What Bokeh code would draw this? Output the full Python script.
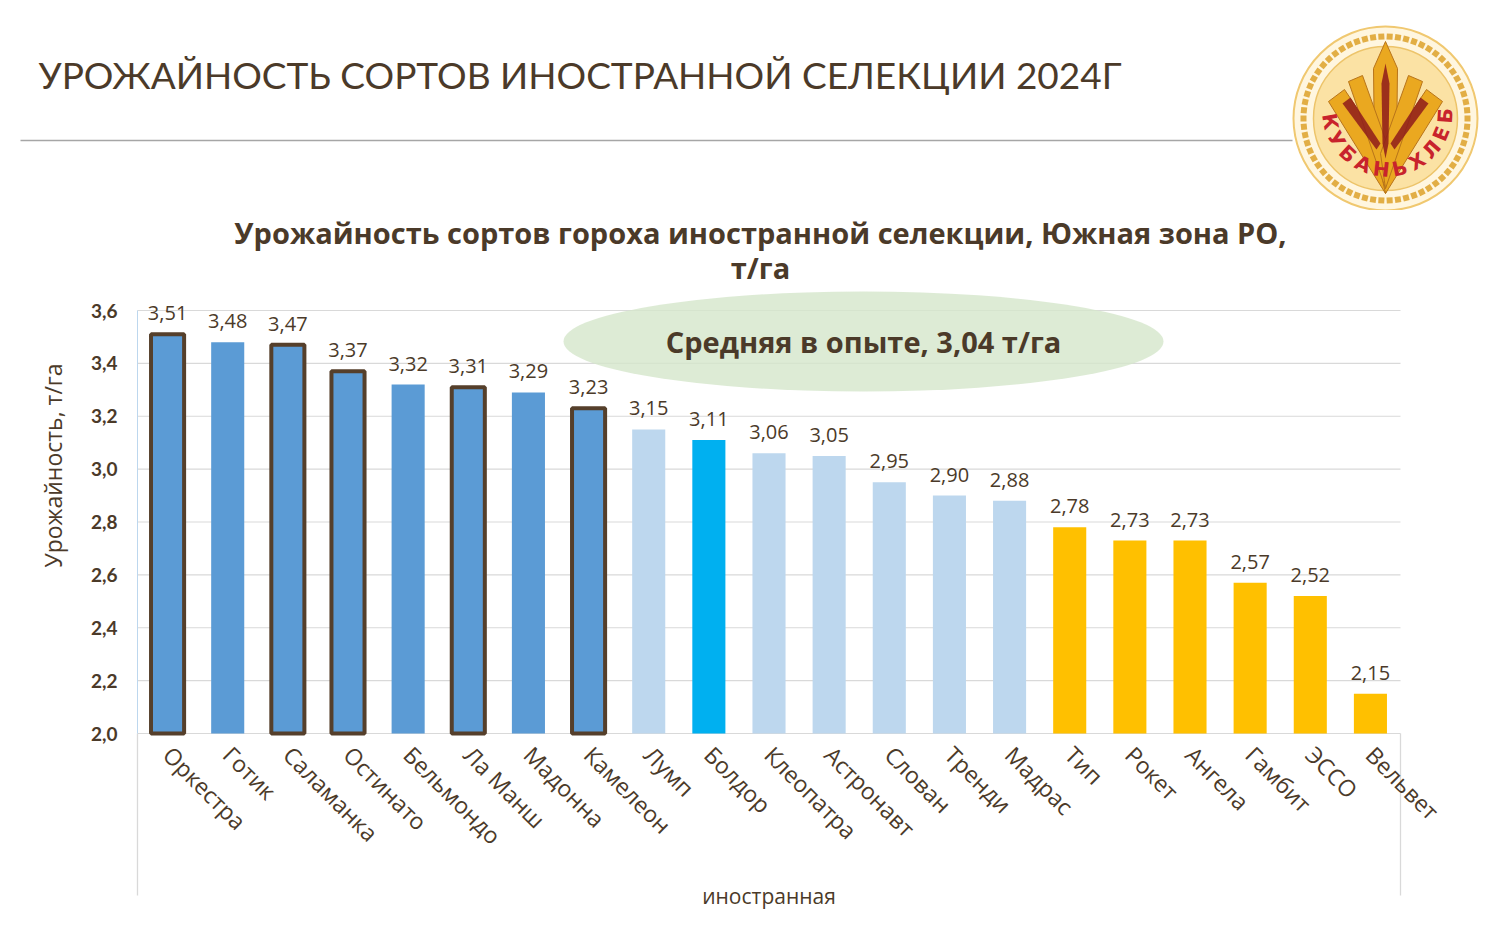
import math
import numpy as np
from bokeh.plotting import figure
from bokeh.models import (ColumnDataSource, FactorRange, Range1d, FixedTicker,
                          CustomJSTickFormatter)
from bokeh.core.properties import value
from bokeh.embed import file_html
from bokeh.resources import INLINE

# ---------------- data ----------------
group = "иностранная"
varieties = ["Оркестра", "Готик", "Саламанка", "Остинато", "Бельмондо", "Ла Манш",
             "Мадонна", "Камелеон", "Лумп", "Болдор", "Клеопатра", "Астронавт",
             "Слован", "Тренди", "Мадрас", "Тип", "Рокет", "Ангела", "Гамбит",
             "ЭССО", "Вельвет"]
yields = [3.51, 3.48, 3.47, 3.37, 3.32, 3.31, 3.29, 3.23, 3.15, 3.11, 3.06, 3.05,
          2.95, 2.90, 2.88, 2.78, 2.73, 2.73, 2.57, 2.52, 2.15]
# colour class of each bar: 0 = high, 1 = middle, 2 = highlighted, 3 = low
classes = [0, 0, 0, 0, 0, 0, 0, 0, 1, 2, 1, 1, 1, 1, 1, 3, 3, 3, 3, 3, 3]
outlined = ["Оркестра", "Саламанка", "Остинато", "Ла Манш", "Камелеон"]
y_ticks = [2.0, 2.2, 2.4, 2.6, 2.8, 3.0, 3.2, 3.4, 3.6]
mean_text = "Средняя в опыте, 3,04 т/га"
page_title = "УРОЖАЙНОСТЬ СОРТОВ ИНОСТРАННОЙ СЕЛЕКЦИИ 2024Г"
chart_title_1 = "Урожайность сортов гороха иностранной селекции, Южная зона РО,"
chart_title_2 = "т/га"
y_label = "Урожайность, т/га"
logo_text = "КУБАНЬХЛЕБ"

# ---------------- styles / layout ----------------
BROWN = "#4B3A29"
GRID = "#D9D9D9"
FONT = "Lato"
FONT2 = "Open Sans"
class_colors = {0: "#5B9BD5", 1: "#BDD7EE", 2: "#00B0F0", 3: "#FFC000"}

W = 1496
HEAD_H = 210                     # header figure: page rows 0..210
CHART_H = 925 - HEAD_H           # chart figure: page rows 210..925
AX_LEFT, AX_RIGHT = 137, 1400    # pixel columns of the category span
AX_TOP, AX_BOT = 310, 733        # pixel rows of 3.6 and 2.0
CAT = (AX_RIGHT - AX_LEFT) / len(varieties)       # pixels per category
PAD = (W - AX_RIGHT) / CAT                         # symmetric padding (categories)
FRAME_LEFT = AX_LEFT - PAD * CAT
K = (y_ticks[-1] - y_ticks[0]) / (AX_BOT - AX_TOP)  # data units per pixel

def yv(py):
    """value-axis data value at page pixel row py"""
    return y_ticks[0] + (AX_BOT - py) * K

def xo(px):
    """categorical coordinate (with offset) at page pixel column px"""
    s = (px - AX_LEFT) / CAT
    i = min(max(int(s), 0), len(varieties) - 1)
    return (group, varieties[i], s - i - 0.5)

# ---------------- header figure ----------------
h = figure(width=W, height=HEAD_H, x_range=Range1d(0, W), y_range=Range1d(0, HEAD_H),
           output_backend="svg", toolbar_location=None, x_axis_type=None,
           y_axis_type=None, min_border=0)
h.outline_line_color = None
h.grid.visible = False

def hy(py):
    return HEAD_H - py

h.text(x=[38], y=[hy(74)], text=[page_title], text_font=value(FONT),
       text_font_size="37px", text_color=BROWN, text_baseline="middle",
       text_align="left")
h.line(x=[20, 1292], y=[hy(140), hy(140)], line_color="#A6A6A6", line_width=1.5)

# logo
LDY = -5
cx, cy = 1385, hy(118)
h.circle(x=[cx], y=[cy], radius=92, fill_color="#FFF6DF", line_color="#F0C870", line_width=2)
ang = np.linspace(0, 2 * np.pi, 62, endpoint=False)
h.scatter(x=cx + 82 * np.cos(ang), y=cy + 82 * np.sin(ang), size=6, marker="square",
          fill_color="#E2AE45", line_color=None, angle=ang)
h.circle(x=[cx], y=[cy], radius=72, fill_color="#FBE2A4", line_color="#EDC46A", line_width=1.5)

def poly(pts):
    return [q[0] for q in pts], [hy(q[1] + LDY) for q in pts]

wheat = [
    [(1373, 73), (1385, 46), (1397, 73), (1396, 158), (1385, 198), (1374, 158)],
    [(1385, 198), (1328, 106), (1344, 94), (1392, 166)],
    [(1385, 198), (1442, 106), (1426, 94), (1378, 166)],
    [(1385, 193), (1348, 86), (1362, 80), (1390, 158)],
    [(1385, 193), (1422, 86), (1408, 80), (1380, 158)],
]
xs, ys = zip(*[poly(w) for w in wheat])
h.patches(xs=list(xs), ys=list(ys), fill_color="#EAA820", line_color="#B8741A", line_width=1)
red = [
    [(1381, 88), (1385, 68), (1389, 88), (1388, 148), (1385, 163), (1382, 148)],
    [(1342, 108), (1350, 102), (1380, 148), (1376, 154)],
    [(1428, 108), (1420, 102), (1390, 148), (1394, 154)],
]
xs, ys = zip(*[poly(w) for w in red])
h.patches(xs=list(xs), ys=list(ys), fill_color="#8E1B1B", line_color=None, fill_alpha=0.85)
lcx, lcy, lr = 1387, hy(111), 58
thetas = np.radians(np.linspace(190, 356, len(logo_text)))
h.text(x=lcx + lr * np.cos(thetas), y=lcy + lr * np.sin(thetas), text=list(logo_text),
       angle=thetas + np.pi / 2, text_font=value("DejaVu Sans"), text_font_style="bold",
       text_font_size="20px", text_color="#C8232C", text_align="center",
       text_baseline="middle")

# ---------------- chart figure ----------------
factors = [(group, v) for v in varieties]
colors = [class_colors[c] for c in classes]
labels = [f"{v:.2f}".replace(".", ",") for v in yields]
is_out = [v in outlined for v in varieties]

plain = ColumnDataSource(dict(
    x=[f for f, o in zip(factors, is_out) if not o],
    top=[y for y, o in zip(yields, is_out) if not o],
    color=[c for c, o in zip(colors, is_out) if not o]))
boxed = ColumnDataSource(dict(
    x=[f for f, o in zip(factors, is_out) if o],
    top=[y for y, o in zip(yields, is_out) if o],
    color=[c for c, o in zip(colors, is_out) if o]))
lab = ColumnDataSource(dict(x=factors, y=yields, text=labels))

p = figure(width=W, height=CHART_H,
           x_range=FactorRange(*factors, range_padding=PAD, range_padding_units="absolute"),
           y_range=Range1d(yv(925), yv(HEAD_H)), output_backend="svg",
           toolbar_location=None, min_border_left=int(round(FRAME_LEFT)),
           min_border_right=0, min_border_top=0, min_border_bottom=0)
p.outline_line_color = None
p.xgrid.grid_line_color = None
p.ygrid.grid_line_color = None

first_edge = (group, varieties[0], -0.5)
last_edge = (group, varieties[-1], 0.5)

# horizontal grid lines over the category span only
grid = ColumnDataSource(dict(x0=[first_edge] * len(y_ticks), x1=[last_edge] * len(y_ticks),
                             y=y_ticks))
p.segment(x0="x0", y0="y", x1="x1", y1="y", source=grid, line_color=GRID, line_width=1.2)

# category group borders below the axis
sep = ColumnDataSource(dict(x=[first_edge, last_edge], y0=[y_ticks[0]] * 2,
                            y1=[yv(895)] * 2))
p.segment(x0="x", y0="y0", x1="x", y1="y1", source=sep, line_color=GRID, line_width=1.3)

# chart titles
title_pos = ColumnDataSource(dict(x=[xo(760)] * 2, y=[yv(232), yv(267)],
                                  text=[chart_title_1, chart_title_2]))
p.text(x="x", y="y", text="text", source=title_pos, text_font=value(FONT2),
       text_font_style="bold", text_font_size="29px", text_color=BROWN,
       text_align="center", text_baseline="middle")

# value-axis title
ylab = ColumnDataSource(dict(x=[xo(53)], y=[yv(465)], text=[y_label]))
p.text(x="x", y="y", text="text", source=ylab, angle=math.pi / 2,
       text_font=value(FONT2), text_font_size="23px", text_color=BROWN,
       text_align="center", text_baseline="middle")

# mean-value ellipse
mean_pos = ColumnDataSource(dict(x=[xo(863)], y=[yv(341)], text=[mean_text]))
p.ellipse(x="x", y="y", width=600, height=100, width_units="screen",
          height_units="screen", source=mean_pos,
          fill_color="#D4E6CA", fill_alpha=0.8, line_color=None)
p.text(x="x", y="y", text="text", source=mean_pos,
       text_font=value(FONT2), text_font_style="bold", text_font_size="29px",
       text_color=BROWN, text_align="center", text_baseline="middle")

# bars
p.vbar(x="x", top="top", bottom=y_ticks[0], width=0.55, fill_color="color",
       line_color=None, source=plain)
p.vbar(x="x", top="top", bottom=y_ticks[0], width=0.55, fill_color="color",
       line_color="#553F2B", line_width=4, source=boxed)
p.text(x="x", y="y", text="text", source=lab, y_offset=-21, text_align="center",
       text_baseline="alphabetic", text_font=value(FONT2), text_font_size="20px",
       text_color=BROWN)

ya = p.yaxis[0]
ya.fixed_location = 0.0
ya.ticker = FixedTicker(ticks=y_ticks)
ya.bounds = (y_ticks[0], y_ticks[-1])
ya.formatter = CustomJSTickFormatter(code="return tick.toFixed(1).replace('.', ',')")
ya.major_label_text_font = FONT
ya.major_label_text_font_style = "bold"
ya.major_label_text_font_size = "19px"
ya.major_label_text_color = BROWN
ya.major_tick_line_color = None
ya.minor_tick_line_color = None
ya.major_tick_out = 0
ya.major_tick_in = 0
ya.major_label_standoff = 20
ya.axis_line_color = "#BDD7EE"

xa = p.xaxis[0]
xa.fixed_location = y_ticks[0]
xa.axis_line_color = None
xa.major_tick_line_color = None
xa.minor_tick_line_color = None
xa.major_tick_out = 0
xa.major_tick_in = 0
xa.major_label_orientation = -math.pi / 4
xa.major_label_text_font = FONT2
xa.major_label_text_font_size = "23px"
xa.major_label_text_color = BROWN
xa.major_label_standoff = 17
xa.group_text_font = FONT2
xa.group_text_font_size = "21px"
xa.group_text_color = BROWN
xa.group_text_font_style = "normal"
xa.separator_line_color = None

open("out.html", "w").write(file_html([h, p], INLINE))
